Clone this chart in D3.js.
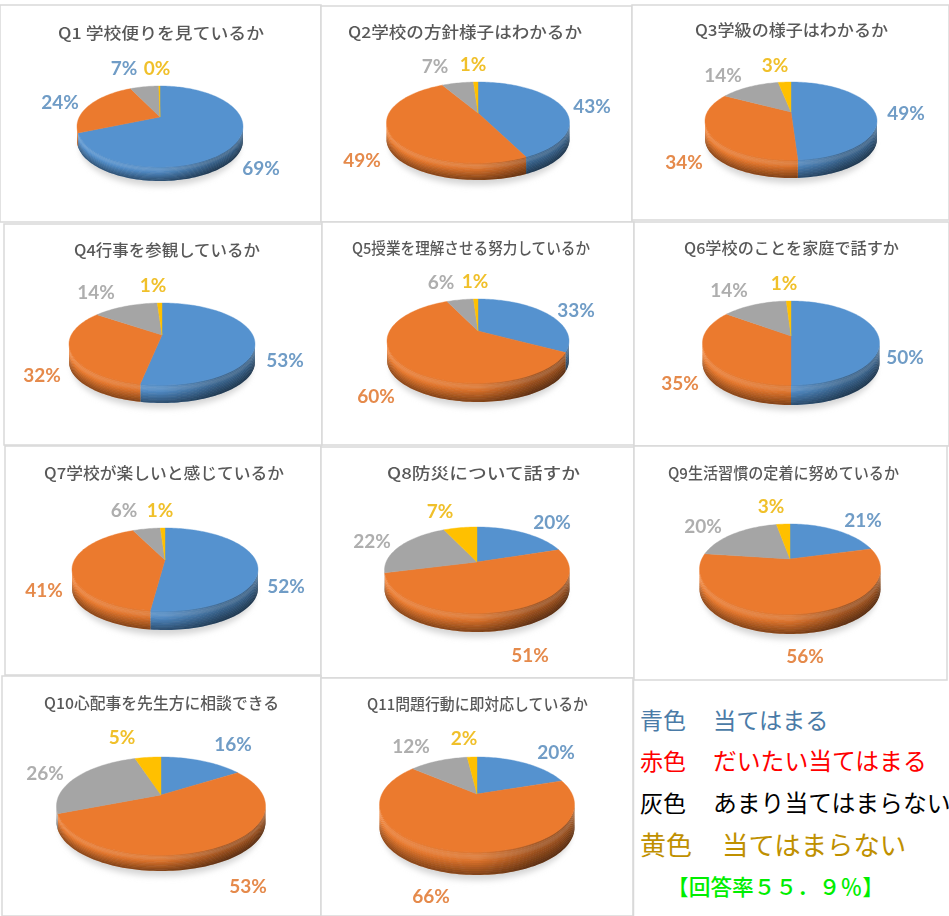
<!DOCTYPE html>
<html><head><meta charset="utf-8">
<script src="https://cdnjs.cloudflare.com/ajax/libs/d3/7.8.5/d3.min.js"></script>
<style>html,body{margin:0;padding:0;background:#fff;overflow:hidden}svg{display:block}</style>
</head><body>
<script>
const questions=["Q1 学校便りを見ているか","Q2学校の方針様子はわかるか","Q3学級の様子はわかるか","Q4行事を参観しているか","Q5授業を理解させる努力しているか","Q6学校のことを家庭で話すか","Q7学校が楽しいと感じているか","Q8防災について話すか","Q9生活習慣の定着に努めているか","Q10心配事を先生方に相談できる","Q11問題行動に即対応しているか"];
const colorNames=["青色","赤色","灰色","黄色"];
const answers=["当てはまる","だいたい当てはまる","あまり当てはまらない","当てはまらない"];
const atehamaru=[69,43,49,53,33,50,52,20,21,16,20];
const daitai=[24,49,34,32,60,35,41,51,56,53,66];
const amari=[7,7,14,14,6,14,6,22,20,26,12];
const atehamaranai=[0.3,1,3,1,1,1,1,7,3,5,2];
const responseRate="【回答率５５．９％】";

// layout (separate from the data)
const boxes=[[0,5,321,222],[321,6,632,222],[632,5,949,220],[4,224,322,445],[322,222,634,445],[634,222,949,446],[5,446,321,675],[321,447,634,678],[634,446,947,680],[2,676,321,916],[321,678,633,916]];
const titleSpans=[[58,264,39],[348,582,38],[695,888,36],[74,260,256],[352,590,254],[684,899,254],[44,284,479],[387,580,479],[668,899,479],[44,279,709],[367,588,710]];
// left, right, top of top face, bottom of wall
const pieFrames=[[77,243,86,181],[387,570,82,180],[705,877,82,178],[69,255,303,403],[387,569,299,402],[703,880,301,405],[72,258,528,630],[385,570,527,632],[700,881,524,634],[57,266,757,871],[380,575,757,875]];
const apexX=[160,478,791,162,478,791,165,477,790,161,477];
const apexY=[117,113,112,335,331,336,560,562,559,795,794];
const faceBottom=[167,163,160,385,383,385,611,613,614,855,852];
const labelSpots=[
 [[261,168],[60,102],[124,68],[157,68]],
 [[592,106],[362,160],[435,66],[473,64]],
 [[906,113],[684,162],[723,75],[775,65]],
 [[285,360],[42,375],[96,292],[153,285]],
 [[576,310],[376,396],[441,282],[475,281]],
 [[905,357],[680,383],[729,290],[784,283]],
 [[286,586],[44,590],[124,510],[160,510]],
 [[552,522],[530,655],[372,541],[440,511]],
 [[863,520],[805,656],[703,526],[771,506]],
 [[233,744],[248,886],[45,773],[122,737]],
 [[556,752],[431,896],[411,746],[464,738]]];
const sliceColors=["#5592cf","#eb7a2e","#a5a5a5","#ffc000"];
const labelColors=["#6f9cc6","#e58a4c","#aeaeae","#f0c02c"];
const legendStyle=[
 {y:729,nameSize:23,x:713,size:23.2,fill:"#4a7ba7"},
 {y:770,nameSize:23,x:713,size:23.8,fill:"#ff0000"},
 {y:812,nameSize:23,x:713,size:23.8,fill:"#000000"},
 {y:855,nameSize:26,x:722,size:26.4,fill:"#bf9000"}];
const BANDS=12;

const W=949,H=916;
const svg=d3.select("body").append("svg").attr("width",W).attr("height",H);
const defs=svg.append("defs");
const blur=(id,s)=>defs.append("filter").attr("id",id).attr("x","-20%").attr("y","-30%").attr("width","140%").attr("height","160%")
  .append("feGaussianBlur").attr("stdDeviation",s);
blur("shadowBlur",3); blur("soft",0.5); blur("wallSoft",0.7);

svg.append("g").selectAll("rect").data(boxes).join("rect")
  .attr("x",d=>d[0]).attr("y",d=>d[1]).attr("width",d=>d[2]-d[0]).attr("height",d=>d[3]-d[1])
  .attr("fill","#fff").attr("stroke","#d9d9d9").attr("stroke-width",1.5);

const pie=d3.pie().sort(null).value(d=>d);
const line=d3.line();
const TAU=Math.PI*2;

questions.forEach((q,i)=>{
  const vals=[atehamaru[i],daitai[i],amari[i],atehamaranai[i]];
  const [x0,x1,top,bottom]=pieFrames[i];
  const cx=apexX[i], cy=apexY[i];
  const back=cy-top, front=faceBottom[i]-cy;
  const K=(front-back)/(front+back);
  const hw=(x1-x0)/2, R=hw*Math.sqrt(1-K*K);
  const Rv=back*(1+K);
  const depth=bottom-faceBottom[i];
  const frontStart=Math.acos(-K), frontEnd=TAU-frontStart;
  const proj=(a,dy=0)=>{const w=1+K*Math.cos(a);return [cx+R*Math.sin(a)/w, cy-Rv*Math.cos(a)/w+dy];};
  const arcPts=(a0,a1,dy=0)=>{const n=Math.max(2,Math.ceil((a1-a0)/0.03));return d3.range(n+1).map(t=>proj(a0+(a1-a0)*t/n,dy));};
  const g=svg.append("g");

  // soft floor shadow
  g.append("path").attr("d",line(arcPts(0,TAU,depth+5))+"Z").attr("fill","#d4d4d4")
    .attr("transform",`translate(${cx} ${cy+front}) scale(.97 1) translate(${-cx} ${-(cy+front)})`)
    .attr("filter","url(#shadowBlur)");

  const arcs=pie(vals);
  const wg=g.append("g").attr("filter","url(#wallSoft)");
  arcs.forEach((s,j)=>{
    const gid=`wall${i}_${j}`;
    const col=d3.color(sliceColors[j]);
    const lg=defs.append("linearGradient").attr("id",gid).attr("gradientUnits","userSpaceOnUse")
      .attr("x1",x0).attr("x2",x1).attr("y1",0).attr("y2",0);
    lg.append("stop").attr("offset",0).attr("stop-color",col);
    lg.append("stop").attr("offset",0.5).attr("stop-color",col.darker(0.2));
    lg.append("stop").attr("offset",0.8).attr("stop-color",col.darker(1.1));
    lg.append("stop").attr("offset",1).attr("stop-color",col.darker(1.3));
    const a0=Math.max(s.startAngle,frontStart), a1=Math.min(s.endAngle,frontEnd);
    if(a1>a0){
      d3.range(BANDS).forEach(b=>{
        const t0=b/BANDS, t1=(b+1)/BANDS, tm=(t0+t1)/2;
        const up=arcPts(a0,a1,depth*t0-0.5), low=arcPts(a0,a1,depth*t1).reverse();
        const path=line(up.concat(low))+"Z";
        wg.append("path").attr("d",path).attr("fill",`url(#${gid})`);
        if(tm<0.4) wg.append("path").attr("d",path).attr("fill","#fff").attr("fill-opacity",0.13*Math.sin(tm/0.4*Math.PI));
        else wg.append("path").attr("d",path).attr("fill","#000").attr("fill-opacity",0.42*(tm-0.4)/0.6);
      });
    }
  });
  const pg=g.append("g").attr("filter","url(#soft)");
  arcs.forEach((s,j)=>{
    const pts=[[cx,cy]].concat(arcPts(s.startAngle,s.endAngle));
    pg.append("path").attr("d",line(pts)+"Z").attr("fill",sliceColors[j]).attr("stroke",sliceColors[j]).attr("stroke-width",0.4);
  });

  // value labels
  const lab=g.append("g").attr("filter","url(#soft)");
  vals.forEach((v,j)=>{
    const fill=(i===0&&(j===1||j===2))?labelColors[0]:labelColors[j];
    lab.append("text").attr("x",labelSpots[i][j][0]).attr("y",labelSpots[i][j][1]+7)
      .attr("text-anchor","middle").attr("font-family","Lato,'Open Sans',sans-serif").attr("font-weight",700)
      .attr("font-size",19).attr("fill",fill).text(Math.floor(v+0.5)+"%");
  });

  // title
  const [t0,t1,ty]=titleSpans[i];
  g.append("text").attr("x",t0).attr("y",ty).attr("textLength",t1-t0).attr("lengthAdjust","spacingAndGlyphs")
    .attr("font-family","'Noto Sans CJK JP',sans-serif").attr("font-size",15.5).attr("font-weight",500)
    .attr("fill","#595959").attr("filter","url(#soft)").text(q);
});

svg.append("line").attr("x1",633.5).attr("x2",633.5).attr("y1",680).attr("y2",916).attr("stroke","#d9d9d9").attr("stroke-width",1.5);
const jp="'Noto Sans CJK JP',sans-serif";
const leg=svg.append("g").attr("font-family",jp);
leg.selectAll("text.name").data(colorNames).join("text").attr("class","name")
  .attr("x",640).attr("y",(d,i)=>legendStyle[i].y).attr("font-size",(d,i)=>legendStyle[i].nameSize)
  .attr("fill",(d,i)=>legendStyle[i].fill).text(d=>d);
leg.selectAll("text.ans").data(answers).join("text").attr("class","ans")
  .attr("x",(d,i)=>legendStyle[i].x).attr("y",(d,i)=>legendStyle[i].y).attr("font-size",(d,i)=>legendStyle[i].size)
  .attr("fill",(d,i)=>legendStyle[i].fill).text(d=>d);
leg.append("text").attr("x",667).attr("y",895).attr("font-size",21.7).attr("font-weight",500).attr("fill","#00ee00").text(responseRate);
</script>
</body></html>
